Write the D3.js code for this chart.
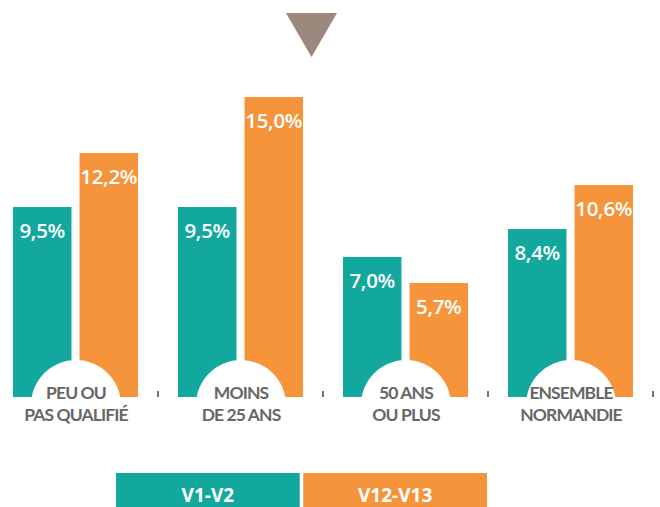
<!DOCTYPE html>
<html><head><meta charset="utf-8">
<script src="https://cdn.jsdelivr.net/npm/d3@7"></script>
<style>body{margin:0;background:#fff}svg{display:block}</style>
</head><body>
<svg id="c" width="660" height="507"></svg>
<script>
const categories = ["PEU OU|PAS QUALIFIÉ", "MOINS|DE 25 ANS", "50 ANS|OU PLUS", "ENSEMBLE|NORMANDIE"];
const seriesNames = ["V1-V2", "V12-V13"];
const v1v2 = [9.5, 9.5, 7.0, 8.4];
const v12v13 = [12.2, 15.0, 5.7, 10.6];
const colors = ["#13a89e", "#f6943b"];

const svg = d3.select("#c");
const baseY = 397;
const x0 = d3.scaleBand().domain(categories).range([-7, 653]).paddingInner(0).paddingOuter(0);
const x1 = d3.scaleBand().domain(seriesNames).range([20, 145]).paddingInner(8/66);
const y = d3.scaleLinear().domain([0, 15]).range([baseY, baseY - 300]);

const data = categories.map((c, i) => ({cat: c, vals: [v1v2[i], v12v13[i]]}));

// triangle marker
svg.append("path").attr("d", "M286,13 L337,13 L311.5,57 Z").attr("fill", "#9c887c");

const g = svg.selectAll("g.grp").data(data).join("g").attr("class", "grp")
  .attr("transform", d => `translate(${x0(d.cat)},0)`);

g.selectAll("rect").data(d => d.vals.map((v, j) => ({v, s: seriesNames[j], j})))
  .join("rect")
  .attr("x", d => x1(d.s)).attr("width", x1.bandwidth())
  .attr("y", d => y(d.v)).attr("height", d => y(0) - y(d.v))
  .attr("fill", d => colors[d.j]);

g.selectAll("text.val").data(d => d.vals.map((v, j) => ({v, s: seriesNames[j]})))
  .join("text").attr("class", "val")
  .attr("x", d => x1(d.s) + x1.bandwidth() / 2)
  .attr("y", d => y(d.v) + 31)
  .attr("text-anchor", "middle")
  .attr("fill", "#fff")
  .attr("font-family", "'Open Sans', sans-serif")
  .attr("font-weight", 600)
  .attr("font-size", 20.5)
  .attr("letter-spacing", -0.3)
  .text(d => d.v.toFixed(1).replace(".", ",") + "%");

// white semicircle under labels
g.append("circle").attr("cx", x0.bandwidth() / 2 + 0.5).attr("cy", 405).attr("r", 45).attr("fill", "#fff");

// ticks
g.append("line").attr("x1", x0.bandwidth()).attr("x2", x0.bandwidth())
  .attr("y1", 391).attr("y2", 397).attr("stroke", "#444").attr("stroke-width", 1.5);

const lab = g.append("text").attr("text-anchor", "middle")
  .attr("fill", "#676767").attr("font-family", "Lato, sans-serif").attr("font-weight", 700)
  .attr("font-size", 17.5).attr("letter-spacing", -0.9);
lab.selectAll("tspan").data(d => d.cat.split("|")).join("tspan")
  .attr("x", x0.bandwidth() / 2 + 0.5)
  .attr("y", (d, i) => 399 + i * 22)
  .text(d => d);

// legend
const lx = d3.scaleBand().domain(seriesNames).range([116, 487]).paddingInner(7/371);
const lg = svg.selectAll("g.leg").data(seriesNames).join("g").attr("class", "leg");
lg.append("rect").attr("x", d => lx(d)).attr("y", 473).attr("width", lx.bandwidth()).attr("height", 40)
  .attr("fill", (d, i) => colors[i]);
lg.append("text").attr("x", d => lx(d) + lx.bandwidth() / 2).attr("y", 502)
  .attr("text-anchor", "middle").attr("fill", "#fff")
  .attr("font-family", "'Open Sans', sans-serif").attr("font-weight", 700).attr("font-size", 19)
  .text(d => d);
</script>
</body></html>
